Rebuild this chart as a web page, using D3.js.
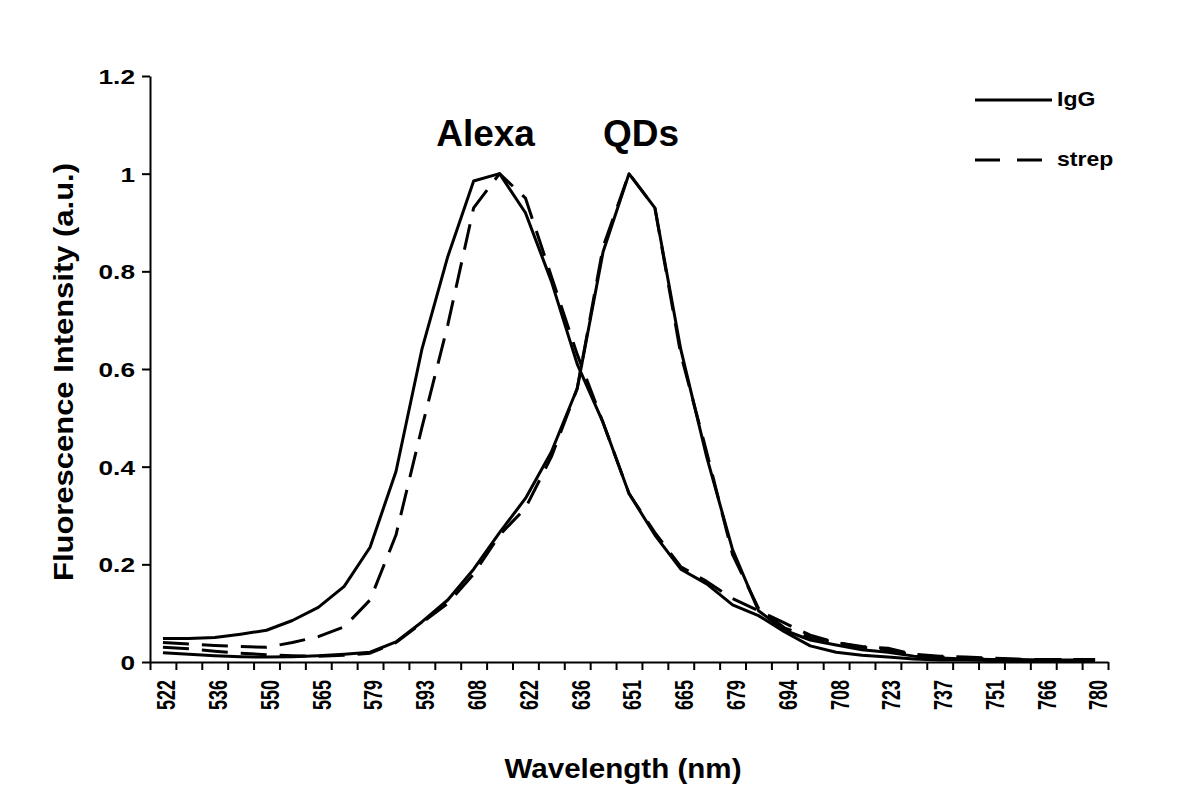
<!DOCTYPE html>
<html>
<head>
<meta charset="utf-8">
<script src="https://cdn.jsdelivr.net/npm/d3@7"></script>
<style>
  body { margin: 0; background: #fff; }
  svg text { font-family: "Liberation Sans", Arial, sans-serif; font-weight: bold; fill: #000; }
</style>
</head>
<body>
<div id="chart"></div>
<script>
// wavelength categories (nm); only every other one is labelled
var wavelengths = [522, 529, 536, 543, 550, 558, 565, 572, 579, 586, 593, 601, 608, 615, 622, 629, 636, 644,
    651, 658, 665, 672, 679, 687, 694, 701, 708, 715, 723, 730, 737, 744, 751, 758, 766, 773, 780];
var yTicks = [0, 0.2, 0.4, 0.6, 0.8, 1, 1.2];

var alexaIgG = [0.048, 0.048, 0.050, 0.057, 0.065, 0.085, 0.112, 0.155, 0.235, 0.39, 0.64, 0.83, 0.985, 1.0, 0.92,
    0.78, 0.61, 0.49, 0.345, 0.26, 0.19, 0.16, 0.117, 0.095, 0.062, 0.033, 0.02, 0.014, 0.01, 0.006, 0.004,
    0.004, 0.003, 0.003, 0.003, 0.003, 0.003];
var alexaStrep = [0.04, 0.037, 0.034, 0.032, 0.03, 0.04, 0.052, 0.072, 0.127, 0.26, 0.48, 0.69, 0.93, 1.0, 0.95,
    0.79, 0.63, 0.49, 0.345, 0.265, 0.195, 0.165, 0.13, 0.105, 0.08, 0.055, 0.04, 0.032, 0.028, 0.016, 0.012,
    0.01, 0.008, 0.006, 0.005, 0.005, 0.005];
var qdIgG = [0.019, 0.016, 0.013, 0.011, 0.01, 0.011, 0.013, 0.016, 0.02, 0.041, 0.082, 0.127, 0.19, 0.265, 0.335,
    0.43, 0.56, 0.84, 1.0, 0.93, 0.64, 0.42, 0.23, 0.105, 0.065, 0.045, 0.035, 0.025, 0.02, 0.012, 0.008,
    0.006, 0.005, 0.005, 0.004, 0.004, 0.004];
var qdStrep = [0.03, 0.027, 0.022, 0.018, 0.015, 0.013, 0.012, 0.014, 0.018, 0.04, 0.08, 0.12, 0.18, 0.26, 0.315,
    0.42, 0.56, 0.85, 1.0, 0.93, 0.63, 0.43, 0.22, 0.11, 0.07, 0.05, 0.04, 0.03, 0.025, 0.015, 0.01,
    0.008, 0.006, 0.005, 0.005, 0.005, 0.005];

var series = [
    { name: "Alexa IgG", values: alexaIgG, dash: null },
    { name: "Alexa strep", values: alexaStrep, dash: "26,13" },
    { name: "QD IgG", values: qdIgG, dash: null },
    { name: "QD strep", values: qdStrep, dash: "26,13" }
];
var legendItems = [{ label: "IgG", dash: null }, { label: "strep", dash: "26,13" }];

var margin = { top: 76, right: 92, bottom: 149, left: 150 };
var width = 1200 - margin.left - margin.right;
var height = 811 - margin.top - margin.bottom;

var svg = d3.select("#chart").append("svg")
    .attr("width", 1200)
    .attr("height", 811)
    .append("g")
    .attr("transform", "translate(" + margin.left + "," + margin.top + ")");

var x = d3.scaleBand().domain(wavelengths).range([0, width]).padding(0);
var xEdge = d3.scaleLinear().domain([0, wavelengths.length]).range([0, width]);
var y = d3.scaleLinear().domain([0, 1.2]).range([height, 0]);

// x tick marks sit between categories
var xTicksAxis = svg.append("g")
    .attr("transform", "translate(0," + height + ")")
    .call(d3.axisBottom(xEdge).tickValues(d3.range(wavelengths.length + 1)).tickSize(8).tickFormat("").tickSizeOuter(0));
xTicksAxis.selectAll("path, line").attr("stroke", "#000").attr("stroke-width", 2);

var xLabels = svg.append("g")
    .attr("transform", "translate(0," + height + ")")
    .call(d3.axisBottom(x).tickValues(wavelengths.filter(function (d, i) { return i % 2 == 0; })).tickSize(0));
xLabels.select(".domain").remove();
xLabels.selectAll("text")
    .attr("x", 0).attr("y", 0).attr("dy", "0.36em")
    .attr("transform", "translate(3,18) rotate(-90) scale(1,1.45)")
    .style("text-anchor", "end")
    .style("font-size", "18px");

var yAxis = svg.append("g")
    .call(d3.axisLeft(y).tickValues(yTicks).tickSize(8).tickSizeOuter(0)
        .tickFormat(function (d) { return String(+d.toFixed(1)); }));
yAxis.selectAll("path, line").attr("stroke", "#000").attr("stroke-width", 2);
yAxis.selectAll("text")
    .attr("x", 0).attr("dy", "0.36em")
    .attr("transform", "translate(-15,0) scale(1.25,1)")
    .style("font-size", "21px");

var line = d3.line()
    .x(function (d, i) { return x(wavelengths[i]) + x.bandwidth() / 2; })
    .y(function (d) { return y(d); });

svg.selectAll(".series")
    .data(series)
    .enter()
    .append("path")
    .attr("class", "series")
    .attr("d", function (d) { return line(d.values); })
    .attr("fill", "none")
    .attr("stroke", "#000")
    .attr("stroke-width", 3)
    .attr("stroke-linejoin", "round")
    .attr("stroke-dasharray", function (d) { return d.dash; });

// peak labels
svg.append("text")
    .attr("x", x(615) + x.bandwidth() / 2 - 14).attr("y", 146 - margin.top)
    .attr("text-anchor", "middle")
    .style("font-size", "37px")
    .text("Alexa");
svg.append("text")
    .attr("x", x(651) + x.bandwidth() / 2 + 12).attr("y", 146 - margin.top)
    .attr("text-anchor", "middle")
    .style("font-size", "37px")
    .text("QDs");

// axis titles
svg.append("text")
    .attr("x", 623 - margin.left).attr("y", 778 - margin.top)
    .attr("text-anchor", "middle")
    .attr("textLength", 237).attr("lengthAdjust", "spacingAndGlyphs")
    .style("font-size", "28px")
    .text("Wavelength (nm)");
svg.append("text")
    .attr("transform", "translate(" + (73 - margin.left) + "," + (372 - margin.top) + ") rotate(-90)")
    .attr("text-anchor", "middle")
    .attr("textLength", 418).attr("lengthAdjust", "spacingAndGlyphs")
    .style("font-size", "27px")
    .text("Fluorescence Intensity (a.u.)");

// legend
var legend = svg.selectAll(".legend")
    .data(legendItems)
    .enter()
    .append("g")
    .attr("class", "legend")
    .attr("transform", function (d, i) { return "translate(" + (975 - margin.left) + "," + (100 + i * 60 - margin.top) + ")"; });
legend.append("line")
    .attr("x1", 0).attr("x2", function (d) { return d.dash ? 68 : 77; })
    .attr("y1", 0).attr("y2", 0)
    .attr("stroke", "#000")
    .attr("stroke-width", 3)
    .attr("stroke-dasharray", function (d) { return d.dash ? "25,17" : null; });
legend.append("text")
    .attr("transform", "translate(82,6) scale(1.15,1)")
    .style("font-size", "20px")
    .text(function (d) { return d.label; });
</script>
</body>
</html>
